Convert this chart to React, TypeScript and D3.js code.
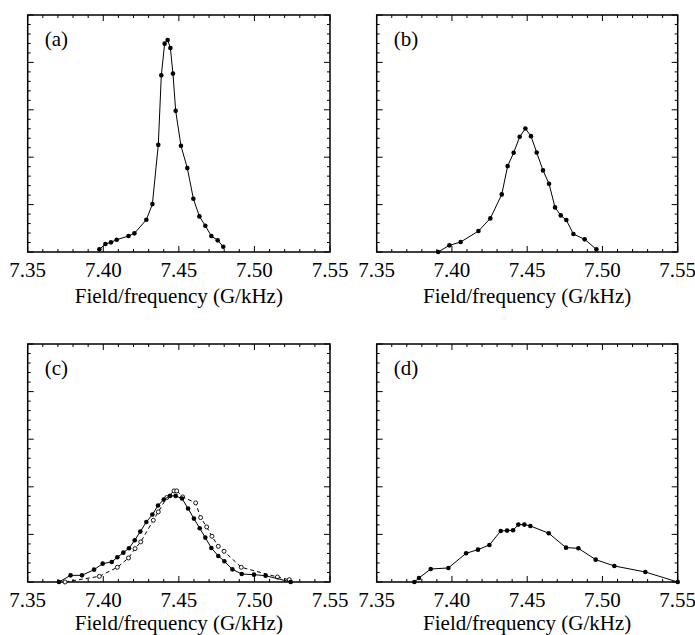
import React from 'react';
import * as d3 from 'd3';

// x values in field/frequency units, y in arbitrary intensity units (0..5)
const xTicks = ['7.35', '7.40', '7.45', '7.50', '7.55'];
const axisTitle = 'Field/frequency (G/kHz)';

const xA = [7.3974, 7.4014, 7.4051, 7.4089, 7.4167, 7.4206, 7.4285, 7.4325, 7.4364, 7.4384, 7.4406, 7.4426, 7.4444, 7.4461, 7.4479, 7.4514, 7.4556, 7.4596, 7.4636, 7.4675, 7.4715, 7.4757, 7.4794];
const yA = [0.056, 0.169, 0.204, 0.26, 0.337, 0.393, 0.681, 1.011, 2.261, 3.729, 4.396, 4.473, 4.305, 3.764, 2.978, 2.24, 1.77, 1.124, 0.751, 0.555, 0.337, 0.246, 0.112];

const xB = [7.3908, 7.3983, 7.4058, 7.4176, 7.4255, 7.4331, 7.437, 7.441, 7.445, 7.4488, 7.4525, 7.4563, 7.4605, 7.4645, 7.4685, 7.4723, 7.476, 7.4807, 7.4882, 7.496];
const yB = [0.0, 0.14, 0.211, 0.442, 0.709, 1.215, 1.812, 2.093, 2.43, 2.605, 2.444, 2.1, 1.721, 1.44, 0.941, 0.772, 0.674, 0.379, 0.267, 0.056];

const xC = [7.3707, 7.3784, 7.3859, 7.3939, 7.3996, 7.4056, 7.4093, 7.4133, 7.417, 7.4208, 7.4245, 7.4285, 7.4325, 7.4362, 7.44, 7.4442, 7.4479, 7.4521, 7.4561, 7.46, 7.4638, 7.4675, 7.4715, 7.4761, 7.4801, 7.4854, 7.4916, 7.4997, 7.5074, 7.524];
const yC = [0.0, 0.14, 0.14, 0.259, 0.386, 0.421, 0.519, 0.617, 0.708, 0.877, 1.059, 1.262, 1.417, 1.606, 1.732, 1.809, 1.809, 1.753, 1.543, 1.332, 1.129, 0.933, 0.715, 0.547, 0.435, 0.266, 0.168, 0.154, 0.133, 0.0];

const xC2 = [7.3747, 7.3974, 7.4093, 7.4167, 7.421, 7.4248, 7.4331, 7.4364, 7.442, 7.4468, 7.4486, 7.4525, 7.4611, 7.4644, 7.4684, 7.4719, 7.4761, 7.4799, 7.4913, 7.5152, 7.5231];
const yC2 = [0.0, 0.119, 0.309, 0.505, 0.701, 0.842, 1.297, 1.473, 1.774, 1.914, 1.914, 1.788, 1.662, 1.353, 1.157, 0.961, 0.75, 0.645, 0.309, 0.105, 0.049];

const xD = [7.375, 7.3781, 7.3859, 7.3976, 7.4094, 7.4173, 7.4249, 7.4324, 7.4366, 7.4406, 7.4441, 7.4481, 7.4521, 7.4643, 7.4758, 7.484, 7.4955, 7.5079, 7.5285, 7.55];
const yD = [0.0, 0.084, 0.273, 0.295, 0.603, 0.68, 0.778, 1.073, 1.08, 1.087, 1.206, 1.206, 1.178, 1.024, 0.722, 0.708, 0.47, 0.337, 0.21, 0.0];

const FONT = 'Liberation Serif';

type Series = { xs: number[]; ys: number[]; open?: boolean; dashed?: boolean };

function Panel({ left, top, right, bottom, label, series, titleOffset }: { left: number; top: number; right: number; bottom: number; label: string; series: Series[]; titleOffset: number }) {
  const x = d3.scaleLinear().domain([7.35, 7.55]).range([left, right]);
  const y = d3.scaleLinear().domain([0, 5]).range([bottom, top]);
  const xMinor = d3.range(0, 21).map((i) => 7.35 + i * 0.01);
  const yMinor = d3.range(0, 26).map((i) => i * 0.2);
  const ticks: JSX.Element[] = [];
  xMinor.forEach((v, i) => {
    const major = i % 5 === 0;
    const len = major ? 6 : 3;
    const px = x(v);
    ticks.push(<line key={'xb' + i} x1={px} x2={px} y1={bottom} y2={bottom - len} stroke="#000" strokeWidth={1} />);
    ticks.push(<line key={'xt' + i} x1={px} x2={px} y1={top} y2={top + len} stroke="#000" strokeWidth={1} />);
  });
  yMinor.forEach((v, i) => {
    const major = i % 5 === 0;
    const len = major ? 6 : 3;
    const py = y(v);
    ticks.push(<line key={'yl' + i} x1={left} x2={left + len} y1={py} y2={py} stroke="#000" strokeWidth={1} />);
    ticks.push(<line key={'yr' + i} x1={right} x2={right - len} y1={py} y2={py} stroke="#000" strokeWidth={1} />);
  });
  return (
    <g>
      {ticks}
      <rect x={left} y={top} width={right - left} height={bottom - top} fill="none" stroke="#000" strokeWidth={1.5} />
      {xTicks.map((t) => (
        <text key={t} x={x(+t)} y={bottom + 25} textAnchor="middle" fontFamily={FONT} fontSize={21} style={{ fontFamily: FONT }}>{t}</text>
      ))}
      <text x={(left + right) / 2} y={bottom + titleOffset} textAnchor="middle" fontFamily={FONT} fontSize={21} style={{ fontFamily: FONT }}>{axisTitle}</text>
      <text x={left + 17} y={top + 31} fontFamily={FONT} fontSize={21} style={{ fontFamily: FONT }}>{label}</text>
      {series.map((s, si) => {
        const pts: [number, number][] = s.xs.map((v, i) => [x(v), y(s.ys[i])]);
        const path = d3.line()(pts) || '';
        return (
          <g key={si}>
            <path d={path} fill="none" stroke="#000" strokeWidth={1} strokeDasharray={s.dashed ? '4,3' : undefined} />
            {pts.map((p, i) => s.open ? (
              <circle key={i} cx={p[0]} cy={p[1]} r={2} fill="#fff" stroke="#000" strokeWidth={0.9} />
            ) : (
              <circle key={i} cx={p[0]} cy={p[1]} r={2.3} fill="#000" />
            ))}
          </g>
        );
      })}
    </g>
  );
}

export default function App() {
  return (
    <svg width={695} height={635} style={{ position: 'absolute', left: 0, top: 0, background: '#fff', fontFamily: FONT }}>
      <rect x={0} y={0} width={695} height={635} fill="#fff" />
      <Panel left={27.7} right={330} top={15} bottom={252} titleOffset={51} label="(a)" series={[{ xs: xA, ys: yA }]} />
      <Panel left={376.7} right={677.7} top={15} bottom={252} titleOffset={51} label="(b)" series={[{ xs: xB, ys: yB }]} />
      <Panel left={27.7} right={330} top={344} bottom={582} titleOffset={48} label="(c)" series={[{ xs: xC2, ys: yC2, open: true, dashed: true }, { xs: xC, ys: yC }]} />
      <Panel left={376.7} right={677.7} top={344} bottom={582} titleOffset={48} label="(d)" series={[{ xs: xD, ys: yD }]} />
    </svg>
  );
}
